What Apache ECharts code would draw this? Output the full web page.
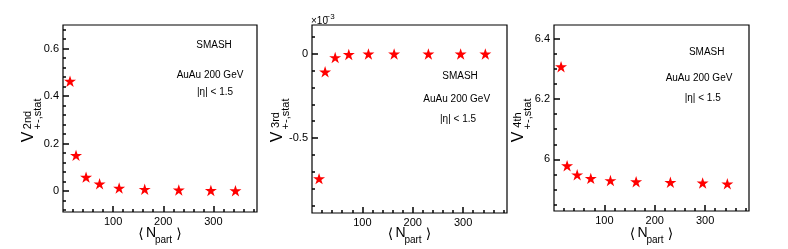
<!DOCTYPE html>
<html>
<head>
<meta charset="utf-8">
<script src="https://cdn.jsdelivr.net/npm/echarts@6/dist/echarts.min.js"></script>
<style>
html,body{margin:0;padding:0;background:#fff;}
#chart{width:788px;height:249px;}
</style>
</head>
<body>
<div id="chart"></div>
<script>
// ---- data ----
var npart = [14, 26, 46, 73, 112, 163, 231, 295, 344];
var v2nd = [0.463, 0.150, 0.058, 0.030, 0.012, 0.007, 0.004, 0.002, 0.001];
var v3rd_e3 = [-0.742, -0.107, -0.022, -0.004, -0.001, -0.001, -0.001, -0.001, -0.001]; // in units of 1e-3
var v4th = [6.307, 5.979, 5.949, 5.937, 5.930, 5.926, 5.924, 5.922, 5.919];

var xMajor = [100, 200, 300];
var xMinor = [20, 40, 60, 80, 120, 140, 160, 180, 220, 240, 260, 280, 320, 340, 360, 380];
var y1Major = [0, 0.2, 0.4, 0.6];
var y1Minor = [-0.08, -0.04, 0.04, 0.08, 0.12, 0.16, 0.24, 0.28, 0.32, 0.36, 0.44, 0.48, 0.52, 0.56, 0.64, 0.68];
var y2Major = [-0.5, 0];
var y2Minor = [-0.9, -0.8, -0.7, -0.6, -0.4, -0.3, -0.2, -0.1, 0.1];
var y3Major = [6, 6.2, 6.4];
var y3Minor = [5.85, 5.9, 5.95, 6.05, 6.1, 6.15, 6.25, 6.3, 6.35];

var panels = [
  {left: 63, width: 194, top: 25, height: 187, ymin: -0.089, ymax: 0.7, yMaj: y1Major, yMin: y1Minor, data: v2nd, ord: '2nd', titleX: 29},
  {left: 312, width: 195, top: 25, height: 188, ymin: -0.946, ymax: 0.171, yMaj: y2Major, yMin: y2Minor, data: v3rd_e3, ord: '3rd', titleX: 277.5},
  {left: 554, width: 195, top: 25, height: 186, ymin: 5.829, ymax: 6.445, yMaj: y3Major, yMin: y3Minor, data: v4th, ord: '4th', titleX: 519}
];

var FONT = 'Liberation Sans, Arial, Helvetica, sans-serif';
var star = 'path://M50 0L61.17 34.63L97.55 34.55L68.07 55.87L79.39 90.45L50 69L20.61 90.45L31.93 55.87L2.45 34.55L38.83 34.63Z';

var grids = [], xAxes = [], yAxes = [], series = [], graphics = [];

panels.forEach(function (p, i) {
  grids.push({left: p.left, top: p.top, width: p.width, height: p.height, show: true, borderColor: '#000', borderWidth: 1.2, backgroundColor: 'transparent', z: 0});
  xAxes.push({gridIndex: i, type: 'value', min: 0, max: 387, position: 'bottom', z: 10,
    axisLine: {show: false, onZero: false}, splitLine: {show: false},
    axisTick: {show: true, inside: true, length: 6, customValues: xMajor, lineStyle: {color: '#000', width: 1.5}},
    axisLabel: {show: true, customValues: xMajor, color: '#000', fontSize: 11, margin: 4}});
  xAxes.push({gridIndex: i, type: 'value', min: 0, max: 387, position: 'bottom', offset: 0, z: 10,
    axisLine: {show: false, onZero: false}, splitLine: {show: false},
    axisTick: {show: true, inside: true, length: 3, customValues: xMinor, lineStyle: {color: '#000', width: 1.5}},
    axisLabel: {show: false}});
  yAxes.push({gridIndex: i, type: 'value', min: p.ymin, max: p.ymax, position: 'left', z: 10,
    axisLine: {show: false, onZero: false}, splitLine: {show: false},
    axisTick: {show: true, inside: true, length: 6, customValues: p.yMaj, lineStyle: {color: '#000', width: 1.5}},
    axisLabel: {show: true, customValues: p.yMaj, color: '#000', fontSize: 11, margin: 4}});
  yAxes.push({gridIndex: i, type: 'value', min: p.ymin, max: p.ymax, position: 'left', offset: 0, z: 10,
    axisLine: {show: false, onZero: false}, splitLine: {show: false},
    axisTick: {show: true, inside: true, length: 3, customValues: p.yMin, lineStyle: {color: '#000', width: 1.5}},
    axisLabel: {show: false}});
  series.push({type: 'scatter', xAxisIndex: 2 * i, yAxisIndex: 2 * i,
    symbol: star, symbolSize: 12, symbolKeepAspect: true,
    itemStyle: {color: '#ff0000', opacity: 1},
    data: npart.map(function (x, k) { return [x, p.data[k]]; })});

  var cx = p.left + p.width / 2;
  graphics.push({type: 'text', x: cx - 19, y: 234.5, style: {text: '\u27E8', font: '14px DejaVu Sans', fill: '#000', textAlign: 'center', textVerticalAlign: 'middle'}});
  graphics.push({type: 'text', x: cx - 9, y: 233.5, style: {text: 'N', font: '14px ' + FONT, fill: '#000', textAlign: 'center', textVerticalAlign: 'middle'}});
  graphics.push({type: 'text', x: cx + 3.5, y: 240.5, style: {text: 'part', font: '10px ' + FONT, fill: '#000', textAlign: 'center', textVerticalAlign: 'middle'}});
  graphics.push({type: 'text', x: cx + 19, y: 234.5, style: {text: '\u27E9', font: '14px DejaVu Sans', fill: '#000', textAlign: 'center', textVerticalAlign: 'middle'}});

  graphics.push({type: 'text', x: p.titleX, y: 137, rotation: Math.PI / 2, style: {text: 'V', font: '16px ' + FONT, fill: '#000', textAlign: 'center', textVerticalAlign: 'middle'}});
  graphics.push({type: 'text', x: p.titleX - 1.5, y: 120, rotation: Math.PI / 2, style: {text: p.ord, font: '11px ' + FONT, fill: '#000', textAlign: 'center', textVerticalAlign: 'middle'}});
  graphics.push({type: 'text', x: p.titleX + 8.5, y: 114, rotation: Math.PI / 2, style: {text: '+-,stat', font: '11px ' + FONT, fill: '#000', textAlign: 'center', textVerticalAlign: 'middle'}});
});

var notes = [
  [214, 45, 'SMASH'], [210, 75, 'AuAu 200 GeV'], [215, 92, '|\u03B7| < 1.5'],
  [460, 76, 'SMASH'], [456.7, 99, 'AuAu 200 GeV'], [458, 119, '|\u03B7| < 1.5'],
  [706.7, 52, 'SMASH'], [699, 78, 'AuAu 200 GeV'], [702.7, 98, '|\u03B7| < 1.5']
];
notes.forEach(function (n) {
  graphics.push({type: 'text', x: n[0], y: n[1], style: {text: n[2], font: '10px ' + FONT, fill: '#000', textAlign: 'center', textVerticalAlign: 'middle'}});
});
graphics.push({type: 'text', x: 311, y: 21.5, style: {text: '\u00D710', font: '10px ' + FONT, fill: '#000', textAlign: 'left', textVerticalAlign: 'middle'}});
graphics.push({type: 'text', x: 325.5, y: 16.5, style: {text: '\u22123', font: '8px ' + FONT, fill: '#000', textAlign: 'left', textVerticalAlign: 'middle'}});

var chart = echarts.init(document.getElementById('chart'));
chart.setOption({
  animation: false,
  grid: grids,
  xAxis: xAxes,
  yAxis: yAxes,
  series: series,
  graphic: graphics
});
</script>
</body>
</html>
